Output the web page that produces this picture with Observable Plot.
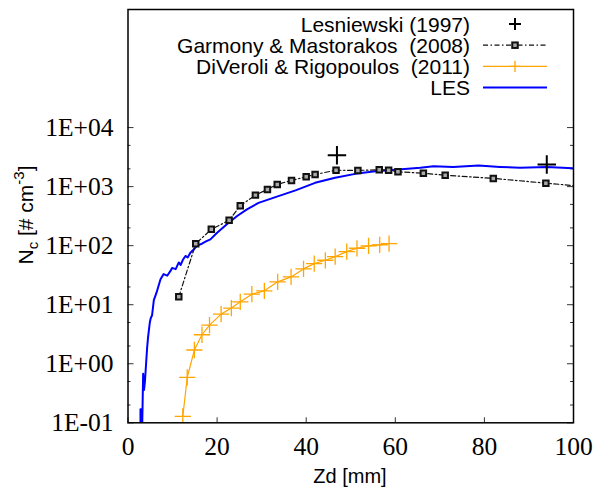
<!DOCTYPE html>
<html><head><meta charset="utf-8">
<script src="https://cdn.jsdelivr.net/npm/d3@7"></script>
<script src="https://cdn.jsdelivr.net/npm/@observablehq/plot@0.6"></script>
<style>body{margin:0;background:#fff;} svg text{white-space:pre;}</style>
</head><body><div id="chart"></div>
<script>
// LES
const lesZd = [2.8,2.8,3.15,3.15,3.4,3.6,3.8,4.3,4.5,4.9,5.1,5.4,5.8,6.4,7.3,8.0,8.8,9.5,9.9,10.7,11.4,11.8,12.4,12.9,13.4,14.0,14.8,15.5,16.6,17.5,18.5,20.0,22.2,24.5,26.7,29.3,33.1,37.6,42.0,46.5,51.0,55.5,60.0,65.6,68.6,73.0,78.7,83.5,88.0,94.0,100];
const lesNc = [0.05,0.17,0.17,0.06,0.68,0.36,0.5,1.9,2.8,5.0,5.9,6.6,12,16,27,33,31,37,42,40,52,47,59,67,63,76,87,100,108,118,128,166,230,318,412,530,665,863,1160,1410,1645,1826,1925,2080,2220,2160,2280,2160,2080,2140,2040];
// Garmony & Mastorakos (2008)
const garZd = [11.4,15.2,18.7,22.7,25.2,28.6,31.3,33.5,36.7,40.0,42.0,46.7,51.6,56.4,58.5,60.6,66.3,71.2,82.0,93.8,106];
const garNc = [13.6,108,189,269,474,718,898,1088,1274,1467,1607,1900,1880,1925,1900,1780,1690,1563,1377,1146,950];
// DiVeroli & Rigopoulos (2011)
const divZd = [12.3,13.3,14.9,16.6,18.3,20.9,23.2,25.2,27.8,30.6,33.6,36.6,39.4,41.8,44.3,46.5,49.1,51.4,54.0,56.5,58.6];
const divNc = [0.128,0.589,1.71,3.10,4.52,6.93,8.77,11.2,15.1,17.2,24.4,29.6,40.4,49.7,56.6,65.2,79.2,90.4,98.9,103,108];
// Lesniewski (1997)
const lesnZd = [46.9,94.0];
const lesnNc = [3400,2370];

const xTicks = [0,20,40,60,80,100];
const yTicks = [0.1,1,10,100,1000,10000];
const yTickLabels = ["1E-01","1E+00","1E+01","1E+02","1E+03","1E+04"];
const yMinorTicks = [0.2,0.5,2,5,20,50,200,500,2000,5000];
const legendLabels = ["Lesniewski (1997)","Garmony & Mastorakos  (2008)","DiVeroli & Rigopoulos  (2011)","LES"];
const xLabel = "Zd [mm]";

const toRows = (xs, ys) => xs.map((x,i)=>({x, y: ys[i]}));
const les = toRows(lesZd, lesNc), gar = toRows(garZd, garNc), div = toRows(divZd, divNc), lesn = toRows(lesnZd, lesnNc);

const W=600, H=493, mL=127.5, mR=27, mT=9, mB=70.7;
const fW = W-mL-mR, fH = H-mT-mB;
const serif = "'Liberation Serif','Times New Roman',serif";
const sans = "'Liberation Sans',Arial,Helvetica,sans-serif";
const BLUE = "#0000ff", ORANGE = "#ffa500";

const chart = Plot.plot({
  width: W, height: H, marginLeft: mL, marginRight: mR, marginTop: mT, marginBottom: mB,
  style: {fontFamily: serif, background: "white", color: "black"},
  x: {domain: [0,100]},
  y: {type: "log", domain: [0.1, 1e6]},
  marks: [
    Plot.axisX(xTicks, {anchor: "bottom", tickSize: 0, tickPadding: 14, fontSize: 25.5, label: null}),
    Plot.axisY(yTicks, {anchor: "left", tickSize: 0, tickPadding: 14.5, fontSize: 25.5, label: null,
      tickFormat: d => yTickLabels[yTicks.indexOf(d)]}),
    Plot.tickX(xTicks, {x: d=>d, insetTop: fH-5, stroke: "#333"}),
    Plot.tickY(yTicks, {y: d=>d, insetRight: fW-6, stroke: "#333"}),
    Plot.tickY(yTicks, {y: d=>d, insetLeft: fW-6, stroke: "#333"}),
    Plot.tickY(yMinorTicks, {y: d=>d, insetRight: fW-3, stroke: "#333"}),
    Plot.tickY(yMinorTicks, {y: d=>d, insetLeft: fW-3, stroke: "#333"}),
    Plot.line(div, {x:"x", y:"y", stroke: ORANGE, strokeWidth: 1.2, clip: true}),
    Plot.dot(div, {x:"x", y:"y", symbol: "plus", r: 5.3, stroke: ORANGE, strokeWidth: 1.3, clip: true}),
    Plot.line(les, {x:"x", y:"y", stroke: BLUE, strokeWidth: 2, clip: true}),
    Plot.line(gar, {x:"x", y:"y", stroke: "#111", strokeWidth: 1.2, strokeDasharray: "5,2.5,1.5,2.5", clip: true}),
    Plot.dot(gar, {x:"x", y:"y", symbol: "square", r: 3.1, stroke: "#111", strokeWidth: 2, fill: "#aaa", clip: true}),
    Plot.dot(lesn, {x:"x", y:"y", symbol: "plus", r: 6, stroke: "black", strokeWidth: 2, clip: true}),
    Plot.frame({stroke: "black", strokeWidth: 1.5})
  ]
});
document.getElementById("chart").appendChild(chart);

const svg = d3.select(chart);
// axis labels
svg.append("text").attr("x", 350).attr("y", 483).attr("text-anchor","middle")
  .attr("font-family", sans).attr("font-size", 20).attr("fill","black").text(xLabel);
const yl = svg.append("text").attr("transform","translate(33,215) rotate(-90)").attr("text-anchor","middle")
  .attr("font-family", sans).attr("font-size", 21).attr("fill","black");
yl.append("tspan").text("N");
yl.append("tspan").attr("dy", 5).attr("font-size", 15).text("c");
yl.append("tspan").attr("dy", -5).text(" [# cm");
yl.append("tspan").attr("dy", -9).attr("font-size", 15).text("-3");
yl.append("tspan").attr("dy", 9).text("]");

// legend
const lg = svg.append("g").attr("font-family", sans).attr("font-size", 21);
const rowY = i => 24 + i*21.2;
legendLabels.forEach((lab, i) => {
  lg.append("text").attr("x", 470).attr("y", rowY(i)+7.6).attr("text-anchor","end").attr("fill","black").text(lab);
});
const sx1 = 483, sx2 = 547, sxm = 515;
// Lesniewski: marker only
lg.append("path").attr("d", `M${sxm-6},${rowY(0)}H${sxm+6}M${sxm},${rowY(0)-6}V${rowY(0)+6}`).attr("stroke","black").attr("stroke-width",2);
// Garmony
lg.append("line").attr("x1",sx1).attr("x2",sx2).attr("y1",rowY(1)).attr("y2",rowY(1)).attr("stroke","#111").attr("stroke-width",1.2).attr("stroke-dasharray","5,2.5,1.5,2.5");
lg.append("rect").attr("x",sxm-2.75).attr("y",rowY(1)-2.75).attr("width",5.5).attr("height",5.5).attr("stroke","#111").attr("stroke-width",2).attr("fill","#aaa");
// DiVeroli
lg.append("line").attr("x1",sx1).attr("x2",sx2).attr("y1",rowY(2)).attr("y2",rowY(2)).attr("stroke",ORANGE).attr("stroke-width",1.2);
lg.append("path").attr("d", `M${sxm-5.6},${rowY(2)}H${sxm+5.6}M${sxm},${rowY(2)-5.6}V${rowY(2)+5.6}`).attr("stroke",ORANGE).attr("stroke-width",1.3);
// LES
lg.append("line").attr("x1",sx1).attr("x2",sx2).attr("y1",rowY(3)).attr("y2",rowY(3)).attr("stroke",BLUE).attr("stroke-width",2);
</script>
</body></html>
